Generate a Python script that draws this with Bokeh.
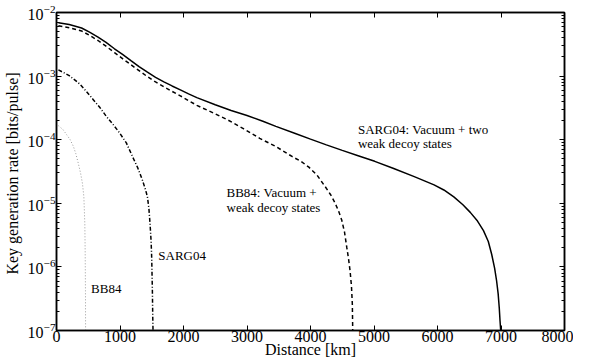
from bokeh.plotting import figure
from bokeh.models import (Range1d, LinearAxis, LogAxis, FixedTicker, Label,
                          LogTickFormatter, CustomJSTickFormatter)
from bokeh.embed import file_html
from bokeh.resources import INLINE

# ---- data ----
sarg_decoy_x = [30, 200, 395, 520, 654, 780, 913, 1040, 1172, 1300, 1432,
                1560, 1691, 1820, 1950, 2080, 2210, 2500, 2750, 3000, 3250,
                3455, 3750, 4000, 4250, 4500, 4750, 5012, 5300, 5634, 5946,
                6100, 6257, 6400, 6516, 6630, 6724, 6800, 6853, 6900, 6931,
                6955, 6973, 6985, 6995]
sarg_decoy_y = [6.92e-3, 6.46e-3, 5.71e-3, 4.90e-3, 4.11e-3, 3.39e-3,
                2.69e-3, 2.19e-3, 1.75e-3, 1.41e-3, 1.15e-3, 9.55e-4,
                8.13e-4, 7.0e-4, 6.07e-4, 5.25e-4, 4.59e-4, 3.55e-4,
                2.88e-4, 2.40e-4, 1.95e-4, 1.62e-4, 1.26e-4, 1.02e-4,
                8.3e-5, 6.8e-5, 5.6e-5, 4.57e-5, 3.55e-5, 2.63e-5, 1.95e-5,
                1.62e-5, 1.26e-5, 9.5e-6, 7.2e-6, 5.25e-6, 3.72e-6, 2.51e-6,
                1.58e-6, 9.5e-7, 6.0e-7, 3.8e-7, 2.24e-7, 1.41e-7, 1.0e-7]

bb84_decoy_x = [30, 200, 395, 520, 654, 780, 913, 1040, 1172, 1300, 1432,
                1560, 1691, 1820, 1950, 2080, 2210, 2450, 2700, 2950, 3200,
                3455, 3715, 3850, 3974, 4100, 4233, 4320, 4389, 4450, 4493,
                4535, 4571, 4600, 4623, 4645, 4659, 4665]
bb84_decoy_y = [6.17e-3, 5.75e-3, 5.13e-3, 4.37e-3, 3.63e-3, 2.95e-3,
                2.34e-3, 1.88e-3, 1.51e-3, 1.22e-3, 9.8e-4, 8.1e-4, 6.8e-4,
                5.75e-4, 4.9e-4, 4.12e-4, 3.47e-4, 2.69e-4, 2.04e-4,
                1.48e-4, 1.05e-4, 7.8e-5, 5.4e-5, 4.57e-5, 3.7e-5, 2.8e-5,
                1.82e-5, 1.35e-5, 1.0e-5, 7.2e-6, 5.4e-6, 3.55e-6, 2.04e-6,
                1.32e-6, 8.7e-7, 5.0e-7, 2.57e-7, 1.0e-7]

sarg_x = [30, 200, 368, 470, 576, 680, 783, 890, 991, 1100, 1198, 1280,
          1354, 1406, 1432, 1455, 1473, 1490, 1499, 1510, 1516, 1520]
sarg_y = [1.25e-3, 1.02e-3, 7.5e-4, 5.75e-4, 4.3e-4, 3.24e-4, 2.34e-4,
          1.74e-4, 1.29e-4, 8.9e-5, 5.4e-5, 3.6e-5, 2.3e-5, 1.58e-5,
          1.26e-5, 8.3e-6, 4.8e-6, 2.5e-6, 1.41e-6, 4.2e-7, 1.6e-7, 1.0e-7]

bb84_x = [30, 100, 160, 215, 265, 305, 342, 380, 409, 431, 446, 452, 456, 458]
bb84_y = [1.66e-4, 1.45e-4, 1.2e-4, 1.0e-4, 7.9e-5, 6.0e-5, 4.3e-5,
          2.95e-5, 2.04e-5, 1.26e-5, 4.8e-6, 1.58e-6, 4.2e-7, 1.0e-7]

x_ticks = [0, 1000, 2000, 3000, 4000, 5000, 6000, 7000, 8000]
y_ticks = [1e-7, 1e-6, 1e-5, 1e-4, 1e-3, 1e-2]

FONT = "Liberation Serif"

p = figure(width=573, height=360, output_backend="svg", toolbar_location=None,
           y_axis_type="log", x_range=Range1d(0, 8000),
           y_range=Range1d(1e-7, 1e-2),
           min_border_left=50, min_border_right=9, min_border_top=12,
           min_border_bottom=20)
p.grid.visible = False
p.outline_line_color = "black"
p.outline_line_width = 1.5
p.background_fill_color = "white"
p.border_fill_color = "white"

y_minor = [m * d for d in y_ticks[:-1] for m in range(2, 10)]

def style(ax, labels=True):
    ax.axis_line_color = "black"
    ax.axis_line_width = 1.5
    ax.major_tick_in = 5
    ax.major_tick_out = 0
    ax.minor_tick_in = 3
    ax.minor_tick_out = 0
    ax.major_tick_line_color = "black"
    ax.minor_tick_line_color = "black"
    ax.major_tick_line_width = 1
    ax.minor_tick_line_width = 1
    ax.major_label_text_font = FONT
    ax.major_label_text_color = "black"
    ax.axis_label_text_font = FONT
    ax.axis_label_text_font_style = "normal"
    ax.axis_label_text_color = "black"
    if labels:
        ax.major_label_text_font_size = "16px"
        ax.axis_label_text_font_size = "16px"
    else:
        ax.formatter = CustomJSTickFormatter(code="return ''")
        ax.major_label_text_font_size = "1px"
        ax.major_label_text_alpha = 0
        ax.major_label_standoff = 0

xa = p.xaxis[0]
xa.ticker = FixedTicker(ticks=x_ticks, minor_ticks=[])
style(xa)
xa.axis_label = "Distance [km]"
xa.major_label_standoff = 0
xa.axis_label_standoff = -4

ya = p.yaxis[0]
ya.ticker = FixedTicker(ticks=y_ticks, minor_ticks=y_minor)
ya.formatter = LogTickFormatter()
style(ya)
ya.axis_label = "Key generation rate  [bits/pulse]"
ya.major_label_standoff = 1
ya.axis_label_standoff = 4

top = LinearAxis(ticker=FixedTicker(ticks=x_ticks, minor_ticks=[]))
style(top, labels=False)
p.add_layout(top, "above")

right = LogAxis(ticker=FixedTicker(ticks=y_ticks, minor_ticks=y_minor))
style(right, labels=False)
p.add_layout(right, "right")

p.line(sarg_decoy_x, sarg_decoy_y, line_color="black", line_width=1.5)
p.line(bb84_decoy_x, bb84_decoy_y, line_color="black", line_width=1.5,
       line_dash="4 3")
p.line(sarg_x, sarg_y, line_color="black", line_width=1.5,
       line_dash="4 2 1 2")
p.line(bb84_x, bb84_y, line_color="#9a9a9a", line_width=1,
       line_dash="1 2")

labels = [
    ("BB84", 545, 4.5e-7),
    ("SARG04", 1603, 1.5e-6),
    ("BB84: Vacuum +", 2677, 1.5e-5),
    ("weak decoy states", 2677, 8.7e-6),
    ("SARG04: Vacuum + two", 4747, 1.44e-4),
    ("weak decoy states", 4747, 8.7e-5),
]
for t, x, y in labels:
    p.add_layout(Label(x=x, y=y, text=t, text_font=FONT,
                       text_font_size="13px", text_color="black",
                       text_baseline="middle", text_align="left"))

open("out.html", "w").write(file_html(p, INLINE))
